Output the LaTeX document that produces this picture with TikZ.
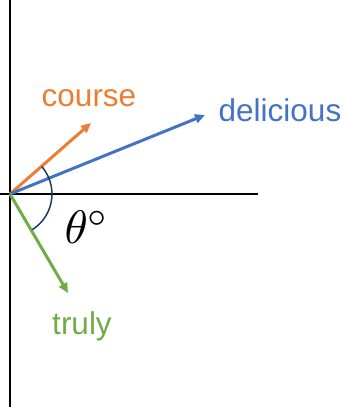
\documentclass[tikz,border=0pt]{standalone}
\usepackage{fontspec}
\setmainfont{Liberation Sans}
\usetikzlibrary{arrows.meta}
\definecolor{corange}{HTML}{ED7D31}
\definecolor{cblue}{HTML}{4472C4}
\definecolor{cgreen}{HTML}{70AD47}
\definecolor{cnavy}{HTML}{1F3864}
\begin{document}
\begin{tikzpicture}[x=1pt,y=1pt,
  axis/.style={black,line width=1.2pt},
  vec/.style={line width=3pt,-{Triangle[length=10pt,width=9pt]}},
  lbl/.style={font=\fontsize{31.5}{34}\selectfont,inner sep=0pt}]
\useasboundingbox (0,0) rectangle (345,407);
\coordinate (O) at (10,213);
\coordinate (top) at (10,407);
\coordinate (bot) at (10,0);
\coordinate (left) at (0,213);
\coordinate (right) at (258,213);
\coordinate (ce) at (91,284);
\coordinate (de) at (205,292);
\coordinate (te) at (68,114);
\draw[axis] (bot) -- (top);
\draw[axis] (left) -- (right);
\draw[vec,corange] (O) -- (ce);
\draw[vec,cblue] (O) -- (de);
\draw[vec,cgreen] (O) -- (te);
\draw[cnavy,line width=1.5pt] (O) ++(41:42) arc[start angle=41,end angle=-58,radius=42];
\node[lbl,text=corange] (course) at (89,309) {course};
\node[lbl,text=cblue] (delicious) at (280,297) {delicious};
\node[lbl,text=cgreen] (truly) at (82,81) {truly};
\node[inner sep=0pt] (theta) at (87,180) {\scalebox{4.7}{$\theta^\circ$}};
\end{tikzpicture}
\end{document}
